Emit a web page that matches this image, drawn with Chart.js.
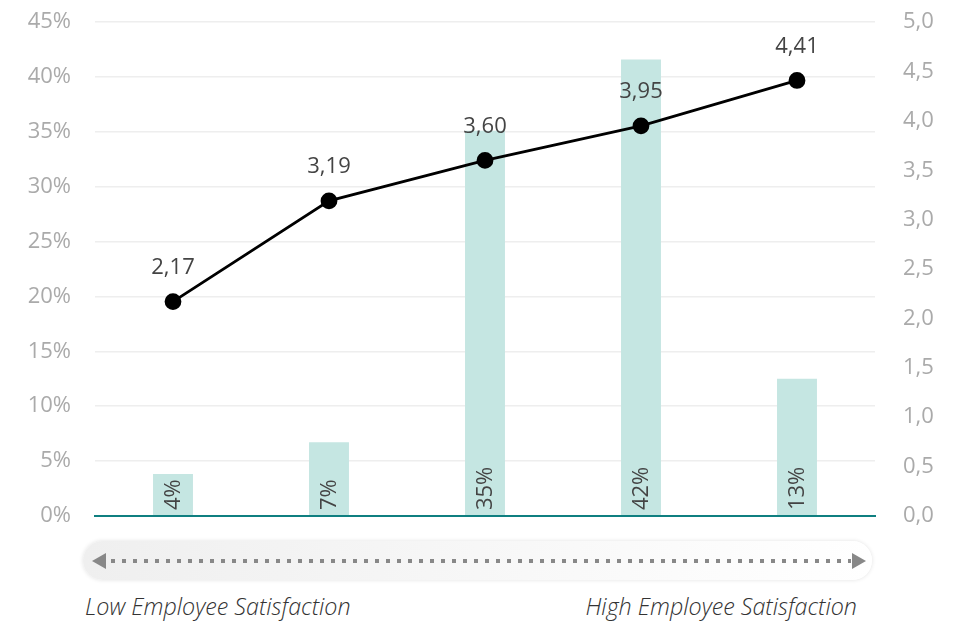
<!DOCTYPE html>
<html>
<head>
<meta charset="utf-8">
<script src="https://cdn.jsdelivr.net/npm/chart.js@4.4.0/dist/chart.umd.min.js"></script>
<style>
  body { margin: 0; background: #fff; font-family: "Open Sans", sans-serif; }
  #wrap { position: relative; width: 962px; height: 622px; overflow: hidden; }
  #box { position: absolute; left: 0; top: -15px; width: 962px; height: 568px; }
  .pill {
    position: absolute; left: 83px; top: 541px; width: 789px; height: 39px;
    border-radius: 20px;
    background: linear-gradient(to right, #efefef, #ffffff);
    box-shadow: 0 0 4px rgba(0,0,0,0.12);
  }
  .dots {
    position: absolute; left: 111px; top: 559px; width: 740px; height: 4px;
    background: repeating-linear-gradient(to right, #888 0 4px, transparent 4px 11px);
  }
  .arr-l {
    position: absolute; left: 92px; top: 553px; width: 0; height: 0;
    border-top: 8px solid transparent; border-bottom: 8px solid transparent;
    border-right: 14px solid #888;
  }
  .arr-r {
    position: absolute; left: 852px; top: 553px; width: 0; height: 0;
    border-top: 8px solid transparent; border-bottom: 8px solid transparent;
    border-left: 14px solid #888;
  }
  .lbl { position: absolute; top: 590px; font-size: 23.3px; font-weight: 300; font-style: italic; color: #333; }
</style>
</head>
<body>
<div id="wrap">
  <div id="box"><canvas id="myChart"></canvas></div>
  <div class="pill"></div>
  <div class="dots"></div>
  <div class="arr-l"></div>
  <div class="arr-r"></div>
  <div class="lbl" style="left:85px;">Low Employee Satisfaction</div>
  <div class="lbl" style="right:105px;">High Employee Satisfaction</div>
</div>
<script>
const categories = ['1', '2', '3', '4', '5'];
const shareValues = [3.8, 6.7, 35.1, 41.6, 12.5];
const shareLabels = ['4%', '7%', '35%', '42%', '13%'];
const scoreValues = [2.17, 3.19, 3.60, 3.95, 4.41];

const comma = (v, d) => v.toFixed(d).replace('.', ',');

const labelPlugin = {
  id: 'labels',
  afterDatasetsDraw(chart) {
    const ctx = chart.ctx;
    ctx.save();
    // bar labels, rotated
    const bars = chart.getDatasetMeta(1).data;
    ctx.fillStyle = '#444';
    ctx.font = '22px "Open Sans"';
    bars.forEach((b, i) => {
      ctx.save();
      ctx.translate(b.x, b.base - 5);
      ctx.rotate(-Math.PI / 2);
      ctx.textAlign = 'left';
      ctx.textBaseline = 'middle';
      ctx.fillText(shareLabels[i], 0, 1);
      ctx.restore();
    });
    // point labels
    const pts = chart.getDatasetMeta(0).data;
    ctx.font = '22px "Open Sans"';
    ctx.textAlign = 'center';
    ctx.textBaseline = 'middle';
    pts.forEach((p, i) => {
      ctx.fillText(comma(scoreValues[i], 2), p.x, p.y - 34);
    });
    ctx.restore();
  }
};

const ctx = document.getElementById('myChart').getContext('2d');
const chart = new Chart(ctx, {
  type: 'bar',
  data: {
    labels: categories,
    datasets: [{
      type: 'line',
      data: scoreValues,
      yAxisID: 'y2',
      borderColor: '#000',
      borderWidth: 2.8,
      pointBackgroundColor: '#000',
      pointBorderColor: '#000',
      pointRadius: 7,
      tension: 0,
      order: 0
    }, {
      type: 'bar',
      data: shareValues,
      yAxisID: 'y',
      backgroundColor: 'rgb(197,230,226)',
      barPercentage: 0.256,
      categoryPercentage: 1,
      order: 1
    }]
  },
  options: {
    responsive: true,
    maintainAspectRatio: false,
    animation: false,
    layout: { padding: { top: 9, left: 0, right: 0, bottom: 0 } },
    plugins: { legend: { display: false }, tooltip: { enabled: false } },
    scales: {
      x: {
        ticks: { display: false },
        grid: { display: false },
        border: { color: '#0f7f80', width: 2 },
        afterFit(s) { s.height = 15; }
      },
      y: {
        position: 'left',
        min: 0, max: 45,
        ticks: {
          stepSize: 5, color: '#aaa', padding: 24,
          font: { family: 'Open Sans', size: 22 },
          callback: v => v + '%'
        },
        grid: { color: '#eeeeee', tickLength: 0, lineWidth: 1.5 },
        border: { display: false },
        afterFit(s) { s.width = 95; }
      },
      y2: {
        position: 'right',
        min: 0, max: 5,
        ticks: {
          stepSize: 0.5, color: '#aaa', padding: 20,
          font: { family: 'Open Sans', size: 22 },
          callback: v => comma(v, 1)
        },
        grid: { display: false },
        border: { display: false },
        afterFit(s) { s.width = 87; }
      }
    }
  },
  plugins: [labelPlugin]
});
</script>
</body>
</html>
